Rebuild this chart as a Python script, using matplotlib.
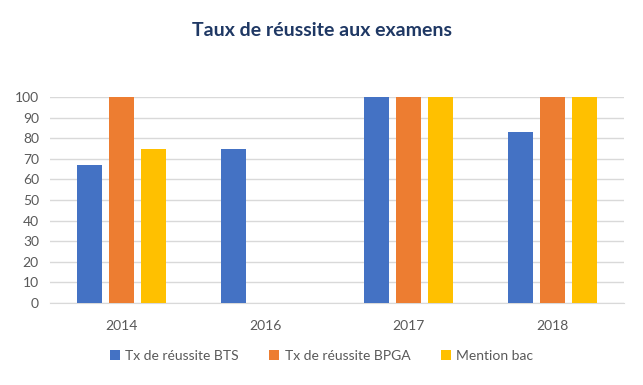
import numpy as np
import matplotlib.pyplot as plt

# données
annees = ['2014', '2016', '2017', '2018']
tx_bts = [67, 75, 100, 83]
tx_bpga = [100, np.nan, 100, 100]
mention_bac = [75, np.nan, 100, 100]

series = ['Tx de réussite BTS', 'Tx de réussite BPGA', 'Mention bac']
couleurs = ['#4472C4', '#ED7D31', '#FFC000']

plt.rcParams['font.family'] = ['Lato', 'DejaVu Sans']

fig = plt.figure(figsize=(6.43, 3.85), dpi=100)
ax = fig.add_axes([50 / 643, 1 - 303 / 385, 574 / 643, 206 / 385])

x = np.arange(len(annees))
largeur = 0.174
pas = 0.223
for i, (vals, nom, c) in enumerate(zip([tx_bts, tx_bpga, mention_bac], series, couleurs)):
    ax.bar(x + (i - 1) * pas, vals, largeur, color=c, label=nom, zorder=3)

ax.set_xlim(-0.5, len(annees) - 0.5)
ax.set_ylim(0, 100)
ax.set_yticks(range(0, 101, 10))
ax.set_xticks(x)
ax.set_xticklabels(annees)
ax.grid(axis='y', color='#D9D9D9', linewidth=1, zorder=0)
for s in ['top', 'right', 'left']:
    ax.spines[s].set_visible(False)
ax.spines['bottom'].set_color('#D9D9D9')
ax.tick_params(axis='both', length=0, labelsize=10, colors='#595959')
ax.tick_params(axis='x', pad=12)
ax.tick_params(axis='y', pad=8)

fig.text(0.5, 1 - 30 / 385, 'Taux de réussite aux examens', ha='center', va='center',
         fontsize=14, fontweight='bold', color='#1F3864')

fig.legend(loc='center', bbox_to_anchor=(0.5, 1 - 356 / 385), ncol=3, frameon=False,
           fontsize=10, handlelength=0.7, handleheight=0.7, handletextpad=0.4,
           columnspacing=2.2, labelcolor='#595959')

fig.savefig('out.png', dpi=100)
